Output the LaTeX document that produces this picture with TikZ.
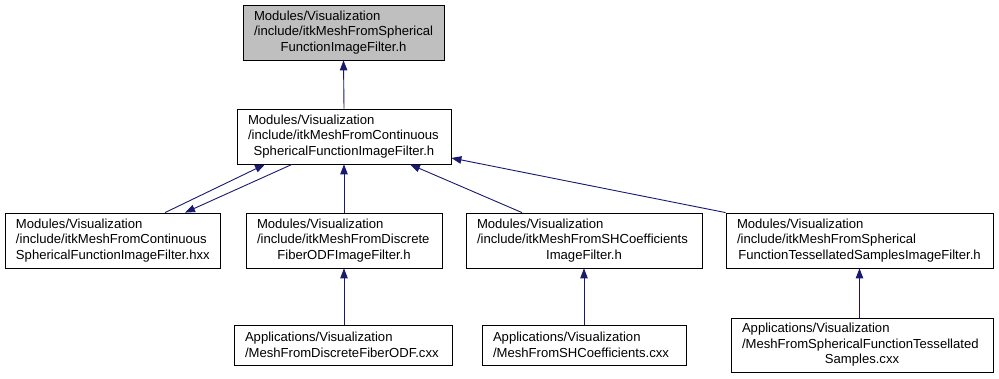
\documentclass[tikz,border=0pt]{standalone}
\usepackage{fontspec}
\setmainfont{Liberation Sans}
\usetikzlibrary{arrows.meta}
\definecolor{edgeblue}{HTML}{191970}
\definecolor{rootgray}{HTML}{BFBFBF}
% last line of a label is centred, the others stay flush left
\newcommand{\lastrow}[1]{\hspace*{0pt plus 1filll}#1\hspace*{0pt plus 1filll}\null}
\tikzset{
  file/.style={draw=black, line width=0.8pt, fill=white, inner xsep=0pt,
    inner ysep=0pt, align=left, font=\fontsize{13.1}{15.5}\selectfont},
  dep/.style={draw=edgeblue, line width=0.9pt,
    -{Triangle[length=10pt,width=7.5pt]}}
}
\begin{document}
\begin{tikzpicture}[x=1pt,y=-1pt]
\useasboundingbox[fill=white] (0,0) rectangle (999,379);

% header files and sources
\node[file, fill=rootgray, minimum width=201pt, minimum height=55pt, text width=179pt] (A) at (343.5,32.5)
  {Modules/Visualization\\/include/itkMeshFromSpherical\\\lastrow{FunctionImageFilter.h}};
\node[file, minimum width=214pt, minimum height=55pt, text width=192pt] (B) at (344,136.5)
  {Modules/Visualization\\/include/itkMeshFromContinuous\\\lastrow{SphericalFunctionImageFilter.h}};
\node[file, minimum width=215pt, minimum height=55pt, text width=193pt] (C) at (112.5,240.5)
  {Modules/Visualization\\/include/itkMeshFromContinuous\\\lastrow{SphericalFunctionImageFilter.hxx}};
\node[file, minimum width=196pt, minimum height=55pt, text width=174pt] (D) at (344,240.5)
  {Modules/Visualization\\/include/itkMeshFromDiscrete\\\lastrow{FiberODFImageFilter.h}};
\node[file, minimum width=236pt, minimum height=55pt, text width=214pt] (E) at (584,240.5)
  {Modules/Visualization\\/include/itkMeshFromSHCoefficients\\\lastrow{ImageFilter.h}};
\node[file, minimum width=267pt, minimum height=55pt, text width=245pt] (F) at (859.5,240.5)
  {Modules/Visualization\\/include/itkMeshFromSpherical\\\lastrow{FunctionTessellatedSamplesImageFilter.h}};
\node[file, minimum width=218pt, minimum height=40pt, text width=196pt] (G) at (343,345)
  {Applications/Visualization\\/MeshFromDiscreteFiberODF.cxx};
\node[file, minimum width=204pt, minimum height=40pt, text width=182pt] (H) at (584,345)
  {Applications/Visualization\\/MeshFromSHCoefficients.cxx};
\node[file, minimum width=262pt, minimum height=54pt, text width=240pt] (I) at (862,345)
  {Applications/Visualization\\/MeshFromSphericalFunctionTessellated\\\lastrow{Samples.cxx}};

% include relations
\draw[dep] (B.north) -- (A.south);
\draw[dep] ([xshift=52.5pt]C.north) -- ([xshift=-79pt]B.south);
\draw[dep] ([xshift=-52pt]B.south) -- ([xshift=72.5pt]C.north);
\draw[dep] (D.north) -- (B.south);
\draw[dep] ([xshift=-62pt]E.north) -- ([xshift=66pt]B.south);
\draw[dep] (F.north west) -- ([yshift=-21.5pt]B.east);
\draw[dep] (G.north -| D.south) -- (D.south);
\draw[dep] (H.north) -- (E.south);
\draw[dep] (I.north -| F.south) -- (F.south);
\end{tikzpicture}
\end{document}
